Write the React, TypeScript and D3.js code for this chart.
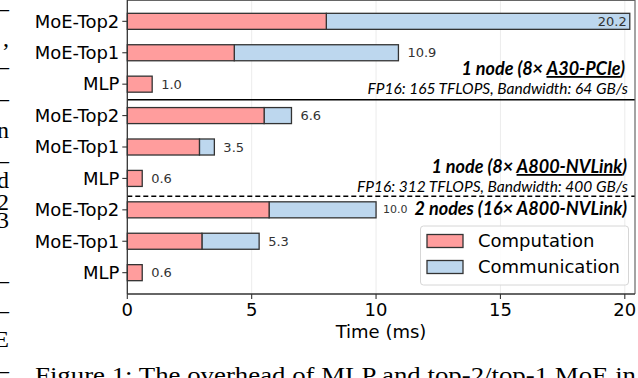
import React from "react";
import * as d3 from "d3";

// ---- data ----
const rowIds = ["a-top2", "a-top1", "a-mlp", "b-top2", "b-top1", "b-mlp", "c-top2", "c-top1", "c-mlp"];
const rowLabels = ["MoE-Top2", "MoE-Top1", "MLP", "MoE-Top2", "MoE-Top1", "MLP", "MoE-Top2", "MoE-Top1", "MLP"];
const computation = [8.0, 4.3, 1.0, 5.5, 2.9, 0.6, 5.7, 3.0, 0.6];
const totals = [20.2, 10.9, 1.0, 6.6, 3.5, 0.6, 10.0, 5.3, 0.6];
const totalLabels = ["20.2", "10.9", "1.0", "6.6", "3.5", "0.6", "10.0", "5.3", "0.6"];
const xTicks = [0, 5, 10, 15, 20];
const seriesNames = ["Computation", "Communication"];
const groupTitles = [
  { pre: "1 node (8\u00D7 ", hw: "A30-PCIe", post: ")", spec: "FP16: 165 TFLOPS, Bandwidth: 64 GB/s" },
  { pre: "1 node (8\u00D7 ", hw: "A800-NVLink", post: ")", spec: "FP16: 312 TFLOPS, Bandwidth: 400 GB/s" },
  { pre: "2 nodes (16\u00D7 A800-NVLink)", hw: "", post: "", spec: "" },
];
const caption = "Figure 1: The overhead of MLP and top-2/top-1 MoE in";
const sideFragments = [
  { t: "\u2013", y: 16 }, { t: ",", y: 46 }, { t: "\u2013", y: 74 }, { t: "\u2013", y: 106 },
  { t: "n", y: 138 }, { t: "\u2013", y: 168 }, { t: "d", y: 188 }, { t: "2", y: 210 },
  { t: "3", y: 228 }, { t: "\u2013", y: 288 }, { t: "\u2013", y: 318 }, { t: "E", y: 347 },
  { t: "\u2013", y: 378 },
];

const RED = "#ff9d9d";
const BLUE = "#bdd7ee";
const EDGE = "#333333";
const AX = "DejaVu Sans, sans-serif";
const ANN = "Lato, 'Open Sans', sans-serif";

export default function App() {
  const left = 127.3, right = 635, top = 0, bottom = 294;
  const x = d3.scaleLinear().domain([0, 20.41]).range([left, right]);
  const y = d3.scaleBand<string>().domain(rowIds).range([top, bottom]).paddingInner(0.49).paddingOuter(0.424);
  const bw = y.bandwidth();
  const cy = (i: number) => (y(rowIds[i]) as number) + bw / 2;
  const sep1 = (cy(2) + cy(3)) / 2;
  const sep2 = (cy(5) + cy(6)) / 2 + 2;

  return (
    <svg width={638} height={378} style={{ position: "absolute", left: 0, top: 0, background: "#fff" }}>
      <rect width={638} height={378} fill="#fff" />
      {/* grid */}
      {xTicks.filter((t) => t > 0).map((t) => (
        <line key={"g" + t} x1={x(t)} x2={x(t)} y1={top} y2={bottom} stroke="#ececec" strokeWidth={1} />
      ))}
      {/* bars */}
      {rowIds.map((id, i) => {
        const y0 = y(id) as number;
        const comm = totals[i] - computation[i];
        return (
          <g key={id}>
            {comm > 0 && (
              <rect x={x(computation[i])} y={y0} width={x(totals[i]) - x(computation[i])} height={bw}
                fill={BLUE} stroke={EDGE} strokeWidth={1.3} />
            )}
            <rect x={x(0)} y={y0} width={x(computation[i]) - x(0)} height={bw}
              fill={RED} stroke={EDGE} strokeWidth={1.3} />
          </g>
        );
      })}
      {/* value labels */}
      {rowIds.map((id, i) => {
        const inside = i === 0;
        const small = i === 6;
        return (
          <text key={"v" + id} x={inside ? x(totals[i]) - 3 : x(totals[i]) + (small ? 7 : 9)} y={cy(i) + (small ? -1 : 0)}
            dy="0.35em" textAnchor={inside ? "end" : "start"} fontFamily={AX}
            fontSize={small ? 11 : 13} fill="#333">
            {totalLabels[i]}
          </text>
        );
      })}
      {/* separators */}
      <line x1={left} x2={right} y1={sep1} y2={sep1} stroke="#000" strokeWidth={1.5} />
      <line x1={left} x2={right} y1={sep2} y2={sep2} stroke="#000" strokeWidth={1.5} strokeDasharray="5,3" />
      {/* group annotations */}
      <text x={625} y={75} textAnchor="end" fontFamily={ANN} fontSize={18} fontWeight="bold" fontStyle="italic" fill="#000">
        {groupTitles[0].pre}
        <tspan textDecoration="underline">{groupTitles[0].hw}</tspan>
        {groupTitles[0].post}
      </text>
      <text x={628} y={94} textAnchor="end" fontFamily={ANN} fontSize={15.5} fontStyle="italic" fill="#000">
        {groupTitles[0].spec}
      </text>
      <text x={627} y={173} textAnchor="end" fontFamily={ANN} fontSize={18} fontWeight="bold" fontStyle="italic" fill="#000">
        {groupTitles[1].pre}
        <tspan textDecoration="underline">{groupTitles[1].hw}</tspan>
        {groupTitles[1].post}
      </text>
      <text x={628} y={192} textAnchor="end" fontFamily={ANN} fontSize={15.5} fontStyle="italic" fill="#000">
        {groupTitles[1].spec}
      </text>
      <text x={627} y={215} textAnchor="end" fontFamily={ANN} fontSize={18} fontWeight="bold" fontStyle="italic" fill="#000">
        {groupTitles[2].pre}
      </text>
      {/* legend */}
      <g>
        <rect x={420.5} y={226} width={208} height={59} rx={3} fill="#fff" fillOpacity={0.85} stroke="#d6d6d6" strokeWidth={1} />
        {seriesNames.map((s, k) => (
          <g key={s}>
            <rect x={427} y={234.5 + k * 26} width={36} height={13} fill={k === 0 ? RED : BLUE} stroke={EDGE} strokeWidth={1.3} />
            <text x={478} y={241 + k * 26} dy="0.35em" fontFamily={AX} fontSize={18} fill="#000">{s}</text>
          </g>
        ))}
      </g>
      {/* frame */}
      <line x1={left} x2={right} y1={0.5} y2={0.5} stroke="#666" strokeWidth={1.2} />
      <line x1={right} x2={right} y1={0} y2={bottom} stroke="#666" strokeWidth={1.2} />
      <line x1={left} x2={left} y1={0} y2={bottom} stroke="#333" strokeWidth={1.3} />
      <line x1={left} x2={right} y1={bottom} y2={bottom} stroke="#333" strokeWidth={1.3} />
      {/* y axis ticks */}
      {rowIds.map((id, i) => (
        <g key={"yt" + id}>
          <line x1={left - 5} x2={left} y1={cy(i)} y2={cy(i)} stroke="#333" strokeWidth={1.1} />
          <text x={left - 8} y={cy(i)} dy="0.35em" textAnchor="end" fontFamily={AX} fontSize={18} fill="#000">
            {rowLabels[i]}
          </text>
        </g>
      ))}
      {/* x axis ticks */}
      {xTicks.map((t) => (
        <g key={"xt" + t}>
          <line x1={x(t)} x2={x(t)} y1={bottom} y2={bottom + 5} stroke="#333" strokeWidth={1.1} />
          <text x={x(t)} y={310} dy="0.35em" textAnchor="middle" fontFamily={AX} fontSize={18} fill="#000">{t}</text>
        </g>
      ))}
      <text x={381} y={332} dy="0.35em" textAnchor="middle" fontFamily={AX} fontSize={18} fill="#000">Time (ms)</text>
      {/* surrounding page text */}
      {sideFragments.map((f, k) => (
        <text key={"f" + k} x={9} y={f.y} textAnchor="end" fontFamily="Liberation Serif, serif" fontSize={24} fill="#000">{f.t}</text>
      ))}
      <text x={35} y={383} fontFamily="Liberation Serif, serif" fontSize={24} fill="#000" textLength={601} lengthAdjust="spacingAndGlyphs">
        {caption}
      </text>
    </svg>
  );
}
